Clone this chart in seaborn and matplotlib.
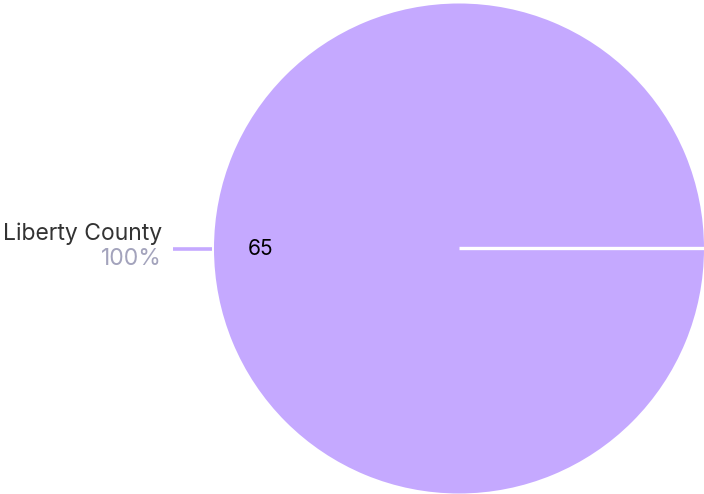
import numpy as np
import matplotlib
matplotlib.use("Agg")
import matplotlib.pyplot as plt
import seaborn as sns

# datos
labels = ["Liberty County"]
values = [65]
colors = ["#C5A9FF"]

sns.set_theme(style="white")
plt.rcParams["font.family"] = ["Inter", "DejaVu Sans"]

fig = plt.figure(figsize=(7.04, 4.94), dpi=100)
ax = fig.add_axes([0, 0, 1, 1])

cx, cy, r = 459, 245.5, 245
total = sum(values)

wedges, texts, autotexts = ax.pie(
    values,
    colors=colors,
    center=(cx, cy),
    radius=r,
    startangle=0,
    counterclock=True,
    autopct=lambda p: f"{p * total / 100:.0f}",
    pctdistance=0.81,
    textprops=dict(fontsize=15, color="black"),
    wedgeprops=dict(linewidth=0),
    frame=True,
)
ax.set_xlim(0, 704)
ax.set_ylim(0, 494)
ax.set_aspect("equal")
ax.axis("off")

for w, v in zip(wedges, values):
    # borde blanco de la porción
    a = np.deg2rad(w.theta1)
    ax.plot([cx, cx + r * np.cos(a)], [cy, cy + r * np.sin(a)],
            color="white", lw=2.4, solid_capstyle="butt", zorder=3)
    mid = np.deg2rad((w.theta1 + w.theta2) / 2)
    dx, dy = np.cos(mid), np.sin(mid)
    x0 = cx + (r + 2) * dx
    x1 = cx + (r + 41) * dx
    y0 = cy + r * dy
    ax.plot([x0, x1], [y0, y0], color=colors[0], lw=2.6,
            solid_capstyle="butt", zorder=3)

for lab, v, w in zip(labels, values, wedges):
    mid = np.deg2rad((w.theta1 + w.theta2) / 2)
    xl = cx + (r + 52) * np.cos(mid)
    yl = cy + r * np.sin(mid)
    ax.text(xl, yl + 4, lab, ha="right", va="bottom", fontsize=16.5,
            color="#333333")
    ax.text(xl, yl + 1, f"{v / total * 100:.0f}%", ha="right", va="top",
            fontsize=16.5, color="#A3A3BC")

fig.savefig("out.png", dpi=100)
